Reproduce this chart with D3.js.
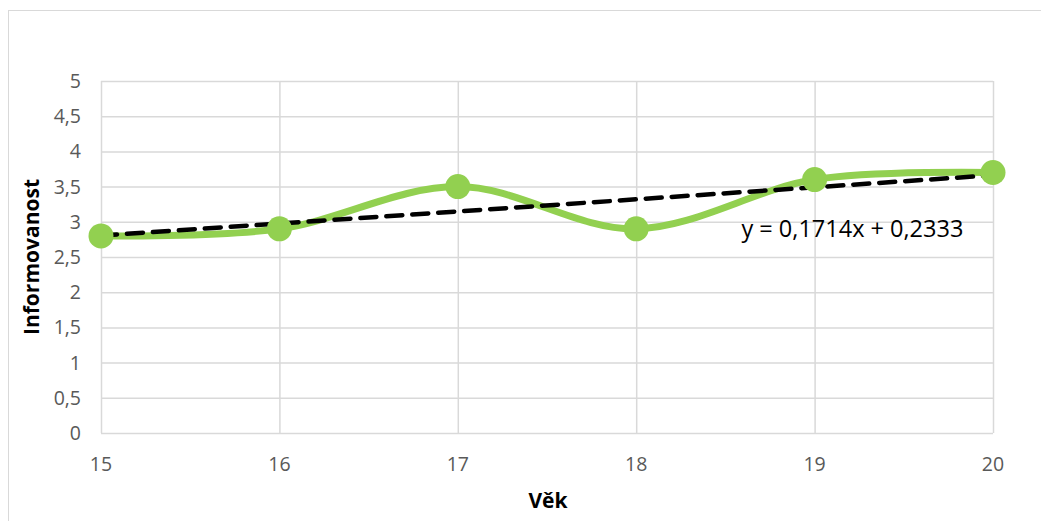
<!DOCTYPE html>
<html>
<head>
<meta charset="utf-8">
<title>Informovanost podle věku</title>
<script src="https://d3js.org/d3.v7.min.js"></script>
<style>
  body { margin: 0; background: #fff; }
  svg text { font-family: "Open Sans", sans-serif; }
</style>
</head>
<body>
<div id="chart"></div>
<script>
	var ages        = [15, 16, 17, 18, 19, 20];
	var informLevel = [2.8, 2.9, 3.5, 2.9, 3.6, 3.7];
	var yTicks      = [0, 0.5, 1, 1.5, 2, 2.5, 3, 3.5, 4, 4.5, 5];
	var trendLabel  = "y = 0,1714x + 0,2333";

	var width  = 1041;
	var height = 521;
	var margin = {left: 101, top: 81, right: 48, bottom: 88};

	var xScale = d3.scaleLinear().domain([15, 20]).range([margin.left, width - margin.right]);
	var yScale = d3.scaleLinear().domain([0, 5]).range([height - margin.bottom, margin.top]);

	var svg = d3.select("#chart").append("svg")
		.attr("width", width)
		.attr("height", height);

	// chart frame
	svg.append("rect")
		.attr("x", 8.5).attr("y", 10.5)
		.attr("width", width + 10).attr("height", height + 10)
		.attr("fill", "none").attr("stroke", "#d9d9d9").attr("stroke-width", 1);

	// grid
	var grid = svg.append("g");
	grid.selectAll("line.h").data(yTicks).enter().append("line")
		.attr("class", "h")
		.attr("x1", xScale(15)).attr("x2", xScale(20))
		.attr("y1", d => yScale(d) + 0.5).attr("y2", d => yScale(d) + 0.5)
		.attr("stroke", "#d9d9d9").attr("stroke-width", 1.5);
	grid.selectAll("line.v").data(ages).enter().append("line")
		.attr("class", "v")
		.attr("x1", d => xScale(d) + 0.5).attr("x2", d => xScale(d) + 0.5)
		.attr("y1", yScale(0)).attr("y2", yScale(5))
		.attr("stroke", "#d9d9d9").attr("stroke-width", 1.5);

	var fmt = d => String(d).replace(".", ",");

	// y tick labels
	svg.append("g").selectAll("text").data(yTicks).enter().append("text")
		.attr("x", xScale(15) - 20)
		.attr("y", d => yScale(d))
		.attr("dy", "0.36em")
		.attr("text-anchor", "end")
		.attr("font-size", 19.5)
		.attr("fill", "#595959")
		.text(fmt);

	// x tick labels
	svg.append("g").selectAll("text").data(ages).enter().append("text")
		.attr("x", d => xScale(d))
		.attr("y", yScale(0) + 38)
		.attr("text-anchor", "middle")
		.attr("font-size", 19.5)
		.attr("fill", "#595959")
		.text(d => d);

	// axis titles
	svg.append("text")
		.attr("transform", "translate(39," + ((yScale(0) + yScale(5)) / 2) + ") rotate(-90)")
		.attr("text-anchor", "middle")
		.attr("font-size", 21).attr("font-weight", "bold").attr("fill", "#000")
		.text("Informovanost");
	svg.append("text")
		.attr("x", (xScale(15) + xScale(20)) / 2 + 1)
		.attr("y", 508)
		.attr("text-anchor", "middle")
		.attr("font-size", 21).attr("font-weight", "bold").attr("fill", "#000")
		.text("Věk");

	var points = ages.map((a, i) => ({x: a, y: informLevel[i]}));

	// smoothed series line
	var line = d3.line()
		.x(d => xScale(d.x))
		.y(d => yScale(d.y))
		.curve(d3.curveCardinal.tension(0));

	svg.append("path")
		.datum(points)
		.attr("d", line)
		.attr("fill", "none")
		.attr("stroke", "#92d050")
		.attr("stroke-width", 7)
		.attr("stroke-linecap", "round");

	// linear trend (least squares on point index 1..n)
	var n = points.length;
	var idx = d3.range(1, n + 1);
	var mx = d3.mean(idx), my = d3.mean(informLevel);
	var sxy = d3.sum(idx, (k, i) => (k - mx) * (informLevel[i] - my));
	var sxx = d3.sum(idx, k => (k - mx) * (k - mx));
	var slope = sxy / sxx, intercept = my - slope * mx;

	svg.append("line")
		.attr("x1", xScale(ages[0])).attr("y1", yScale(intercept + slope * 1))
		.attr("x2", xScale(ages[n - 1])).attr("y2", yScale(intercept + slope * n))
		.attr("stroke", "#000")
		.attr("stroke-width", 4.5)
		.attr("stroke-dasharray", "16,10")
		.attr("stroke-linecap", "round");

	// markers
	svg.append("g").selectAll("circle").data(points).enter().append("circle")
		.attr("cx", d => xScale(d.x))
		.attr("cy", d => yScale(d.y))
		.attr("r", 12.5)
		.attr("fill", "#92d050");

	// trend equation
	svg.append("text")
		.attr("x", xScale(18.59))
		.attr("y", yScale(2.5) - 20)
		.attr("font-size", 23.5)
		.attr("fill", "#000")
		.text(trendLabel);
</script>
</body>
</html>
